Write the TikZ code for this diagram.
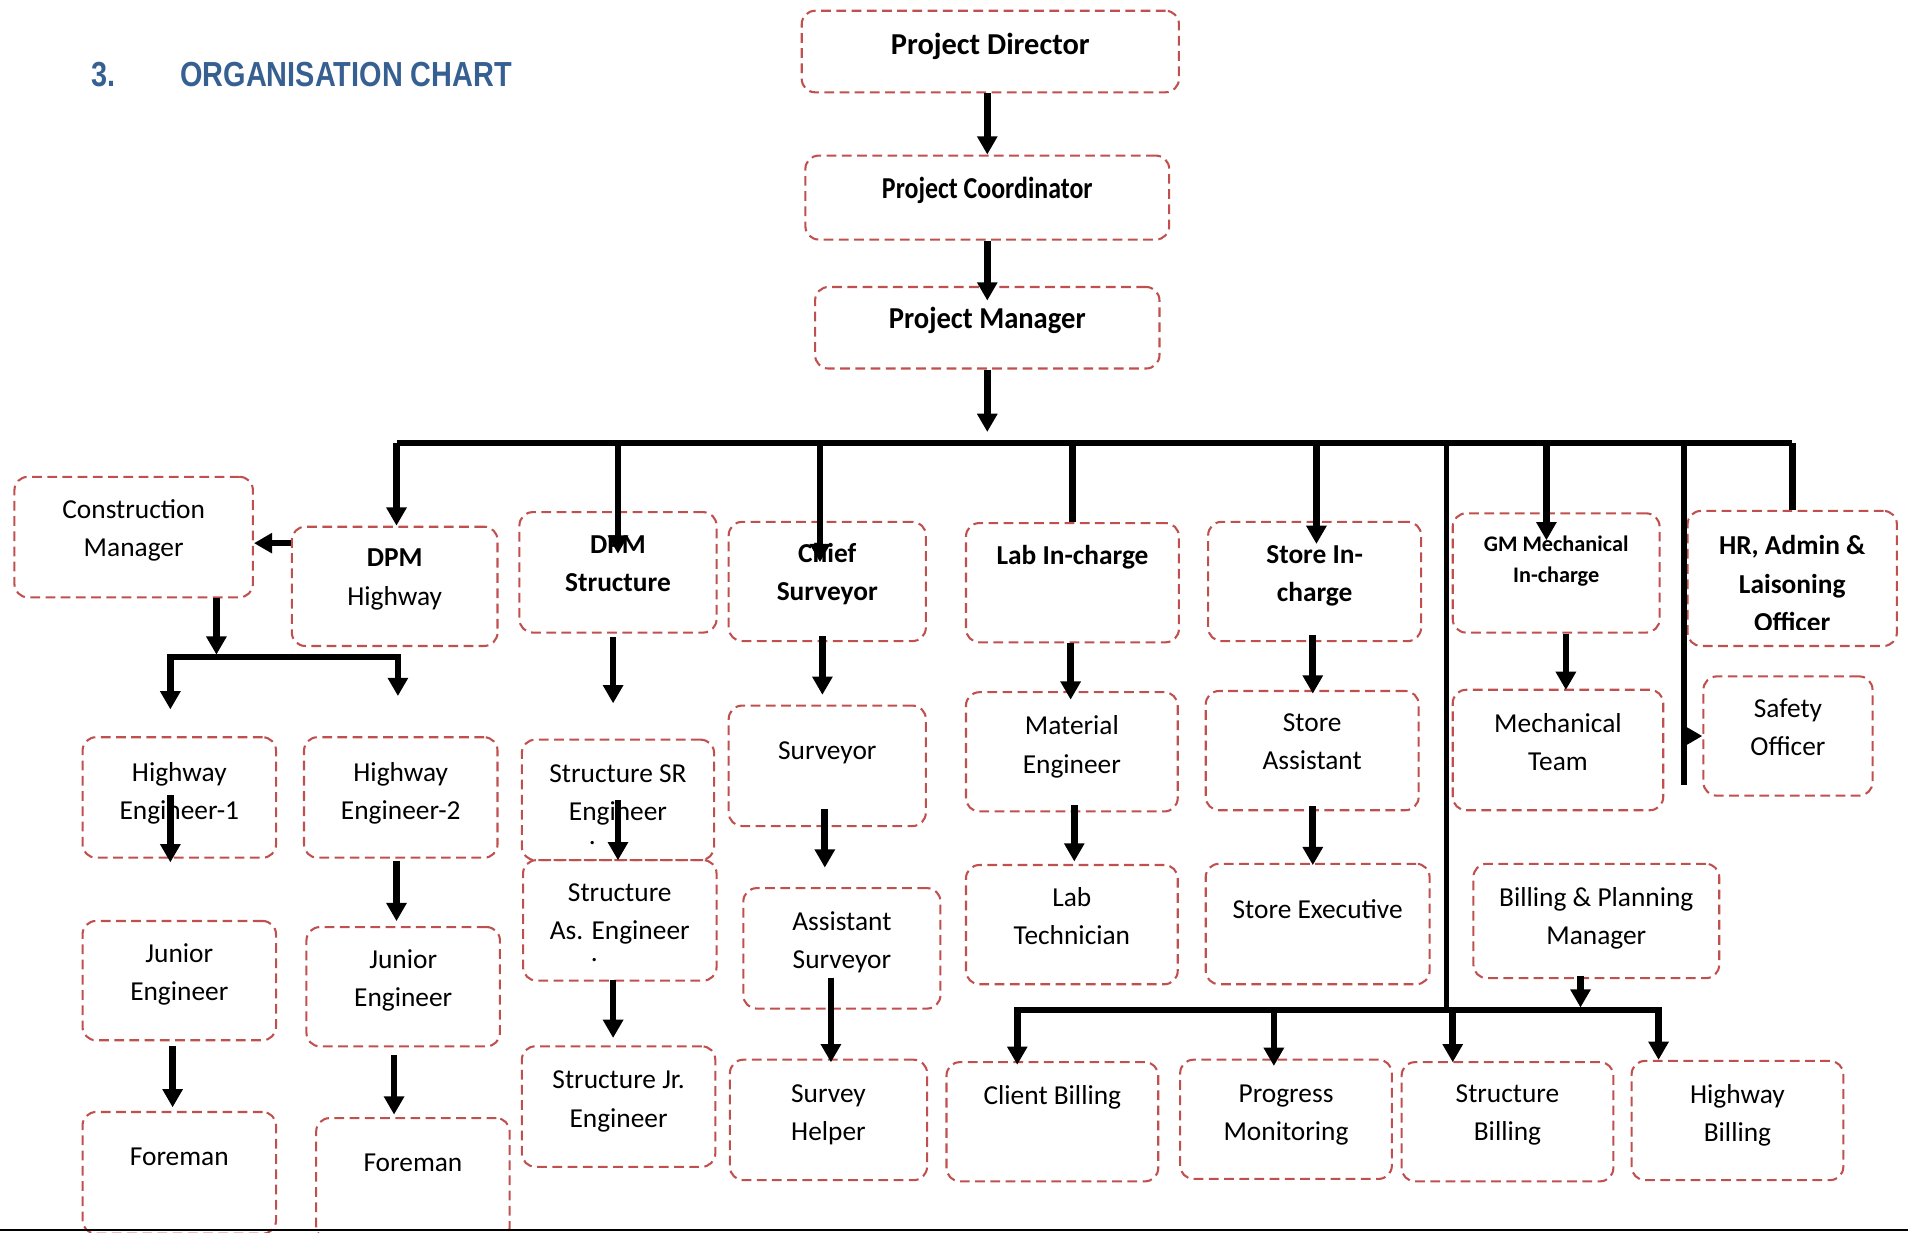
\documentclass[tikz,border=0pt]{standalone}
\usepackage{fontspec}
\usepackage{graphicx}
\setmainfont{Carlito}
\newfontfamily\titlefont[FakeStretch=0.83]{Liberation Sans}
\usetikzlibrary{arrows.meta}

\definecolor{boxred}{RGB}{192,80,77}
\definecolor{titleblue}{RGB}{54,96,146}
\newcommand\bodytxt{\fontsize{22.5}{31.5}\selectfont}
\newcommand\headtxt{\fontsize{25}{30}\selectfont\bfseries}
\newcommand\gmtxt{\fontsize{18.3}{26}\selectfont\bfseries}

\tikzset{
    >={Triangle[length=15pt, width=16pt]},
    orgbox/.style={draw=boxred, line width=1.7pt, dash pattern=on 8pt off 4.5pt,
        rounded corners=11pt, inner sep=0pt, anchor=north west},
    boxtext/.style={anchor=north, align=center, inner sep=0pt, font=\bodytxt},
    boldtext/.style={font=\bodytxt\bfseries},
    link/.style={line width=5.5pt},
    arr/.style={link, ->},
    charttitle/.style={text=titleblue, inner sep=0pt, anchor=base west,
        font=\titlefont\bfseries\fontsize{28.6}{34}\selectfont},
}

% [text style] name, left, top, width, height, text drop, text
\newcommand\orgnode[8][]{%
    \node[orgbox, minimum width=#5pt, minimum height=#6pt] (#2) at (#3,-#4) {};
    \node[boxtext, #1] (#2-t) at ([yshift=-#7pt]#2.north) {#8};
}

\begin{document}
\begin{tikzpicture}[x=1pt, y=1pt]
    \useasboundingbox (0,0) rectangle (1568,-1013);
    \clip (0,0) rectangle (1568,-1013);

    %title
    \node[charttitle] (num) at (75,-71) {3.};
    \node[charttitle] (chart) at (148,-71) {ORGANISATION CHART};

    %boxes
    \orgnode[font=\headtxt]{pd}{658}{8}{310}{67}{19}{Project Director}
    \orgnode[font=\headtxt]{pc}{661}{127}{299}{69}{18}{\scalebox{0.85}[1]{Project Coordinator}}
    \orgnode[font=\headtxt]{pm}{669}{235}{283}{67}{17}{\scalebox{0.94}[1]{Project Manager}}
    \orgnode{cm}{11}{391}{196}{99}{19}{Construction\\Manager}
    \orgnode{dpmhw}{239}{432}{169}{98}{19}{\textbf{DPM}\\Highway}
    \orgnode[boldtext]{dpmst}{426}{420}{162}{99}{20}{DPM\\Structure}
    \orgnode[boldtext]{cs}{598}{428}{162}{98}{18}{Chief\\Surveyor}
    \orgnode[boldtext]{lab}{793}{429}{175}{98}{19}{Lab In-charge}
    \orgnode[boldtext]{store}{992}{428}{175}{98}{20}{Store In-\\charge}
    \orgnode[font=\gmtxt]{gm}{1193}{421}{170}{98}{19}{GM Mechanical\\In-charge}
    \orgnode{hw1}{67}{605}{159}{99}{21}{Highway\\Engineer-1}
    \orgnode{hw2}{249}{605}{159}{99}{21}{Highway\\Engineer-2}
    \orgnode{je1}{67}{756}{159}{98}{19}{Junior\\Engineer}
    \orgnode{je2}{251}{761}{159}{98}{19}{Junior\\Engineer}
    \orgnode{fm1}{67}{913}{159}{100}{30}{Foreman}
    \orgnode{fm2}{259}{918}{159}{100}{30}{Foreman}
    \orgnode{ssr}{428}{607}{158}{99}{21}{Structure SR\\Engineer\\[-12pt]\hspace*{-42pt}.}
    \orgnode{sae}{429}{706}{159}{99}{20}{Structure\\As. Engineer\\[-14pt]\hspace*{-42pt}.}
    \orgnode{sje}{428}{859}{159}{99}{21}{Structure Jr.\\Engineer}
    \orgnode{sv}{598}{579}{162}{99}{30}{Surveyor}
    \orgnode{as}{610}{729}{162}{99}{20}{Assistant\\Surveyor}
    \orgnode{sh}{599}{870}{162}{99}{21}{Survey\\Helper}
    \orgnode{me}{793}{568}{174}{98}{20}{Material\\Engineer}
    \orgnode{lt}{793}{710}{174}{98}{19}{Lab\\Technician}
    \orgnode{sa}{990}{567}{175}{98}{19}{Store\\Assistant}
    \orgnode{se}{990}{709}{184}{99}{30}{Store Executive}
    \orgnode{mt}{1193}{566}{173}{99}{20}{Mechanical\\Team}
    \orgnode{so}{1399}{555}{139}{98}{19}{Safety\\Officer}
    \orgnode{bpm}{1210}{709}{202}{94}{20}{Billing \& Planning\\Manager}
    \orgnode{cb}{777}{872}{174}{98}{20}{Client Billing}
    \orgnode{pmon}{969}{870}{174}{98}{21}{Progress\\Monitoring}
    \orgnode{sb}{1151}{872}{174}{98}{19}{Structure\\Billing}
    \orgnode{hb}{1340}{871}{174}{98}{20}{Highway\\Billing}

    \node[orgbox, minimum width=172pt, minimum height=111pt] (hr) at (1386,-419) {};
    \begin{scope}
        \clip (hr.north west) rectangle ([yshift=14pt]hr.south east);
        \node[boxtext, boldtext] (hr-t) at ([yshift=-21pt]hr.north) {HR, Admin \&\\Laisoning\\Officer};
    \end{scope}

    %main line
    \coordinate (barL) at (326,-364);
    \coordinate (barR) at (1473,-364);
    \draw[link] (barL) -- (barR);

    \draw[arr] (pc.north |- pd.south) -- (pc.north);
    \draw[arr] (pc.south) -- ([yshift=-12pt]pc.south |- pm.north);
    \draw[arr] (pm.south) -- ([yshift=9pt]pm.south |- barL);

    \draw[arr] ([xshift=1.5pt]dpmhw.north |- barL) -- ([xshift=1.5pt]dpmhw.north);
    \draw[arr] (dpmst.north |- barL) -- ([yshift=-35pt]dpmst.north);
    \draw[arr] ([xshift=-6pt]cs.north |- barL) -- ([xshift=-6pt, yshift=-34pt]cs.north);
    \draw[arr] ([xshift=1.5pt]store.north |- barL) -- ([xshift=1.5pt, yshift=-19pt]store.north);
    \draw[arr] ([xshift=-8pt]gm.north |- barL) -- ([xshift=-8pt, yshift=-23pt]gm.north);
    \draw[link] (lab.north |- barL) -- (lab.north);
    \draw[link] (hr.north |- barL) -- (hr.north);

    %construction manager
    \draw[arr] ([yshift=-5pt]cm.east -| dpmhw.west) -- ([yshift=-5pt]cm.east);
    \coordinate (cmL) at (140,-540);
    \coordinate (cmR) at (327,-540);
    \draw[arr] ([xshift=68pt]cm.south) -- ([xshift=68pt, yshift=2pt]cm.south |- cmL);
    \draw[link, <->] ([yshift=22pt]cmL |- hw1.north) -- (cmL) -- (cmR) -- ([yshift=33pt]cmR |- hw2.north);
    \draw[arr] ([yshift=52pt]cmL |- hw1.south) -- ([yshift=-3pt]cmL |- hw1.south);
    \draw[arr] ([xshift=-3.5pt, yshift=-2pt]hw2.south) -- ([xshift=-3.5pt, yshift=4pt]hw2.south |- je2.north);
    \draw[arr] ([xshift=-5.5pt, yshift=-4pt]je1.south) -- ([xshift=-5.5pt, yshift=3pt]je1.south |- fm1.north);
    \draw[arr] ([xshift=-7.5pt, yshift=-6pt]je2.south) -- ([xshift=-7.5pt, yshift=2pt]je2.south |- fm2.north);

    %structure
    \draw[arr] ([xshift=-4pt, yshift=-3pt]dpmst.south) -- ([xshift=-4pt, yshift=29pt]dpmst.south |- ssr.north);
    \draw[arr] ([yshift=50pt]ssr.south) -- ([yshift=-1pt]ssr.south |- sae.north);
    \draw[arr] ([xshift=-5.5pt, yshift=1pt]sae.south) -- ([xshift=-5.5pt, yshift=6pt]sae.south |- sje.north);

    %surveyor
    \draw[arr] ([xshift=-4pt, yshift=5pt]cs.south) -- ([xshift=-4pt, yshift=8pt]cs.south |- sv.north);
    \draw[arr] ([xshift=-2pt, yshift=15pt]sv.south) -- ([xshift=-2pt, yshift=16pt]sv.south |- as.north);
    \draw[arr] ([xshift=-9pt, yshift=26pt]as.south) -- ([xshift=-9pt, yshift=-3pt]as.south |- sh.north);

    %lab, store, mechanical
    \draw[arr] ([xshift=-1.5pt]lab.south) -- ([xshift=-1.5pt, yshift=-7pt]lab.south |- me.north);
    \draw[arr] ([xshift=2pt, yshift=6pt]me.south) -- ([xshift=2pt, yshift=2pt]me.south |- lt.north);
    \draw[arr] ([xshift=-1.5pt, yshift=6pt]store.south) -- ([xshift=-1.5pt, yshift=-3pt]store.south |- sa.north);
    \draw[arr] ([xshift=0.5pt, yshift=4pt]sa.south) -- ([xshift=0.5pt, yshift=-2pt]sa.south |- se.north);
    \draw[arr] ([xshift=8pt]gm.south) -- ([xshift=8pt, yshift=-1pt]gm.south |- mt.north);

    %safety
    \coordinate (sfB) at (1384,-645);
    \draw[link] (sfB |- barR) -- (sfB);
    \draw[arr] (sfB |- so.west) -- (so.west);

    %billing
    \coordinate (bbL) at (836,-830);
    \coordinate (bbM) at (1189,-830);
    \coordinate (bbR) at (1363,-830);
    \draw[link, line width=4pt] (bbM |- barL) -- (bbM);
    \draw[link, <->] ([yshift=-3pt]bbL |- cb.north) -- (bbL) -- (bbR) -- (bbR |- hb.north);
    \draw[arr] ([xshift=-13pt, yshift=3pt]bpm.south) -- ([xshift=-13pt, yshift=2pt]bpm.south |- bbL);
    \draw[arr] ([xshift=-10pt]pmon.north |- bbL) -- ([xshift=-10pt, yshift=-6pt]pmon.north);
    \draw[arr] ([xshift=-45pt]sb.north |- bbL) -- ([xshift=-45pt, yshift=-1pt]sb.north);

    \draw[line width=2pt] (0,-1011) -- (1568,-1011);
\end{tikzpicture}
\end{document}
